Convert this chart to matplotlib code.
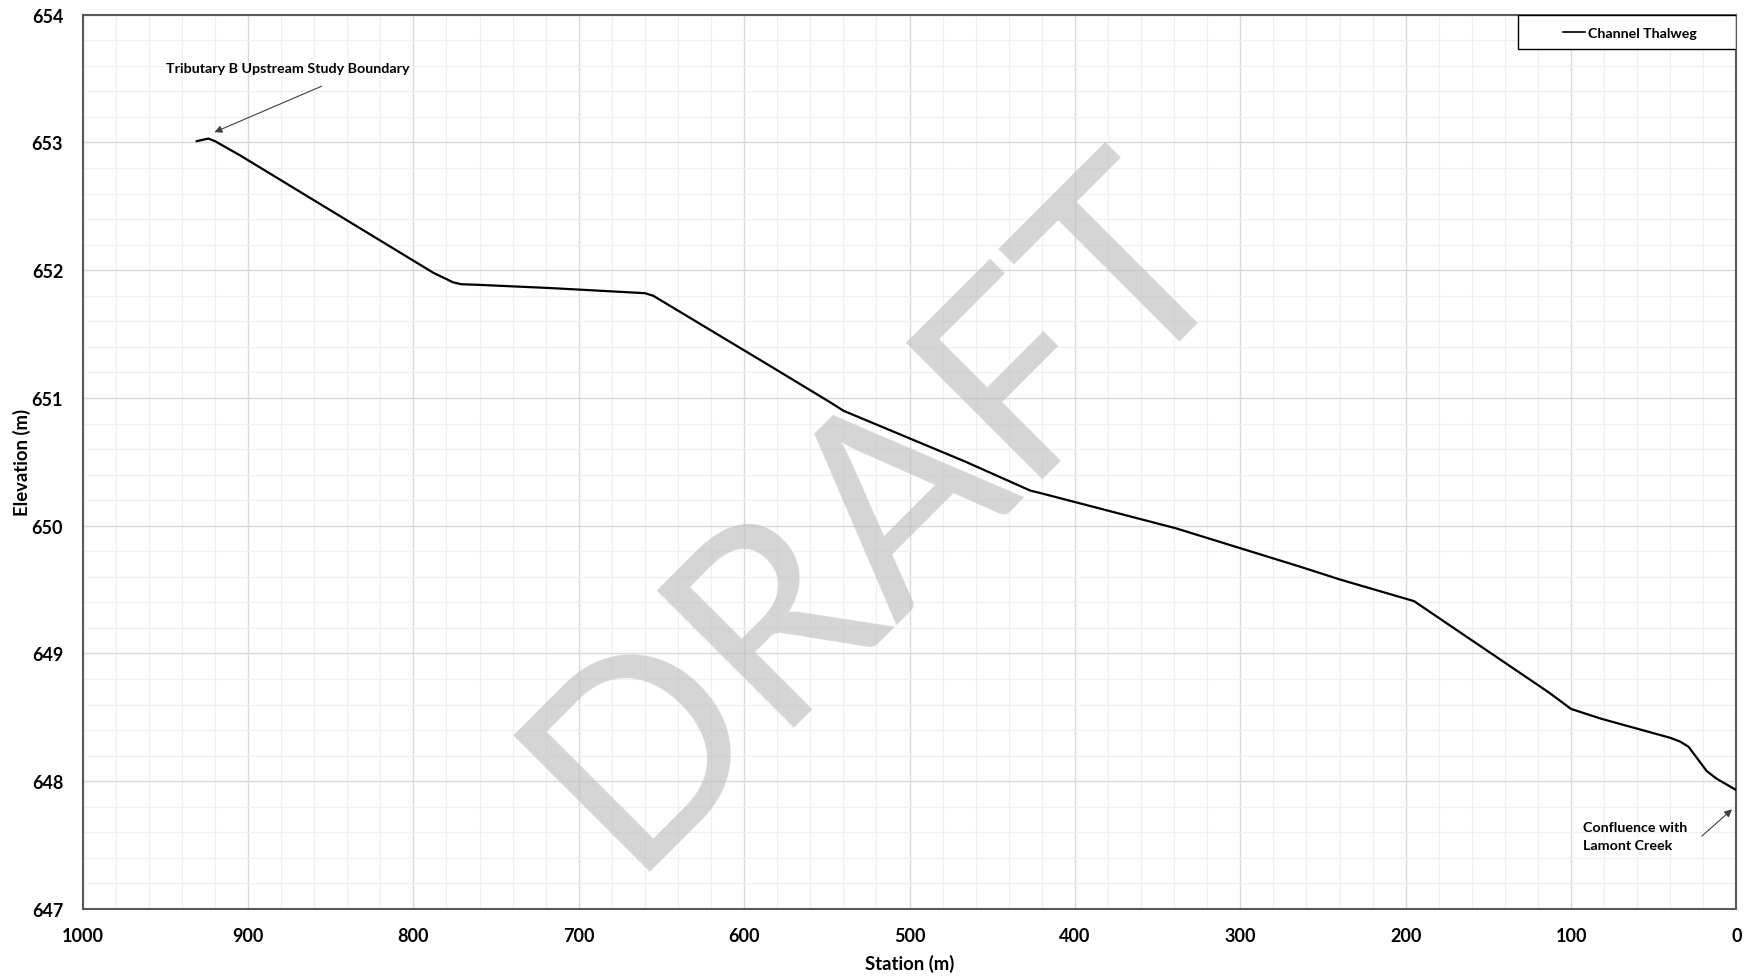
import matplotlib.pyplot as plt
from matplotlib.patches import Rectangle
from matplotlib.ticker import MultipleLocator

plt.rcParams['font.family'] = ['Lato', 'DejaVu Sans']

# Channel thalweg profile (station in m, elevation in m)
station = [931, 924, 920, 905, 788, 776, 771, 760, 717, 660, 655,
           584, 548, 540, 466, 427, 421, 339, 264, 240, 195,
           114, 100, 82, 40, 34, 29, 18, 12, 0]
elevation = [653.01, 653.03, 653.01, 652.90, 651.98, 651.905, 651.89, 651.885, 651.86, 651.82, 651.80,
             651.248, 650.966, 650.90, 650.50, 650.275, 650.256, 649.98, 649.68, 649.58, 649.41,
             648.70, 648.566, 648.49, 648.34, 648.31, 648.27, 648.08, 648.02, 647.93]

xticks = [1000, 900, 800, 700, 600, 500, 400, 300, 200, 100, 0]
yticks = [647, 648, 649, 650, 651, 652, 653, 654]

fig = plt.figure(figsize=(17.51, 9.78), dpi=100)
ax = fig.add_subplot(111)
fig.subplots_adjust(left=0.0472, right=0.9917, top=0.984, bottom=0.0695)

ax.plot(station, elevation, color='black', lw=1.6, label='Channel Thalweg', zorder=3)

ax.set_xlim(1000, 0)
ax.set_ylim(647, 654)
ax.set_xticks(xticks)
ax.set_yticks(yticks)
ax.xaxis.set_minor_locator(MultipleLocator(20))
ax.yaxis.set_minor_locator(MultipleLocator(0.2))
ax.grid(True, which='major', color='#d9d9d9', lw=1.0, zorder=0)
ax.grid(True, which='minor', color='#f0f0f0', lw=0.9, zorder=0)
ax.set_axisbelow(True)
ax.tick_params(which='both', length=0)
ax.tick_params(axis='x', pad=13)
ax.tick_params(axis='y', pad=14)
for lab in ax.get_xticklabels() + ax.get_yticklabels():
    lab.set_fontsize(13)
    lab.set_fontweight('bold')
for s in ax.spines.values():
    s.set_color('#595959')
    s.set_linewidth(1.5)

ax.set_xlabel('Station (m)', fontsize=13.3, fontweight='bold', labelpad=7)
ax.set_ylabel('Elevation (m)', fontsize=13.3, fontweight='bold', labelpad=0.5)

# watermark
ax.text(519, 650.12, 'DRAFT', fontsize=194, color='#bfbfbf', alpha=0.65,
        rotation=45, rotation_mode='anchor', ha='center', va='center', zorder=2)

ax.text(876, 653.58, 'Tributary B Upstream Study Boundary', ha='center', va='center',
        fontsize=10.3, fontweight='bold')
ax.annotate('', xy=(920.3, 653.08), xytext=(855.5, 653.44),
            arrowprops=dict(arrowstyle='-|>', color='#404040', lw=0.8, mutation_scale=11,
                            shrinkA=0, shrinkB=0))
ax.annotate('', xy=(2.7, 647.78), xytext=(21, 647.57),
            arrowprops=dict(arrowstyle='-|>', color='#404040', lw=0.8, mutation_scale=11,
                            shrinkA=0, shrinkB=0))
ax.text(93, 647.57, 'Confluence with\nLamont Creek', ha='left', va='center',
        fontsize=10.3, fontweight='bold', linespacing=1.55)

# legend with a wide square frame like the original
ax.add_patch(Rectangle((0.8677, 0.9613), 0.1323, 0.0387, transform=ax.transAxes,
                       facecolor='white', edgecolor='black', lw=1.0, zorder=4))
leg = ax.legend(loc='center', bbox_to_anchor=(0.9355, 0.9800), fontsize=10.2,
                frameon=False, handlelength=1.6, handletextpad=0.2, borderpad=0)
leg.set_zorder(5)
for t in leg.get_texts():
    t.set_fontweight('bold')
leg.get_lines()[0].set_linewidth(1.2)

fig.savefig('out.png', dpi=100)
